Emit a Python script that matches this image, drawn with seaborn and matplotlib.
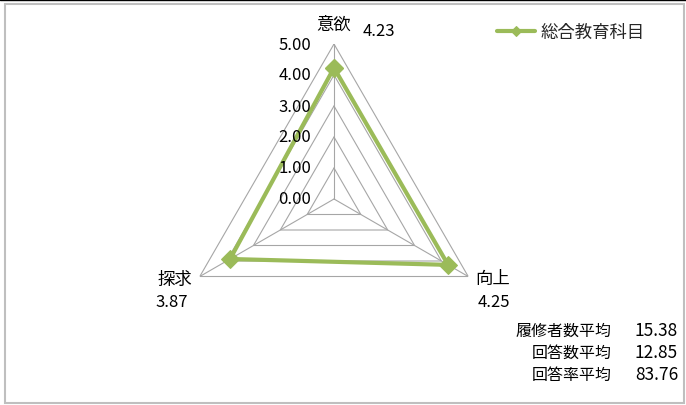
import numpy as np
import pandas as pd
import matplotlib
matplotlib.use("Agg")
import matplotlib.pyplot as plt
from matplotlib.patches import Rectangle
from matplotlib.lines import Line2D
import seaborn as sns

# data
categories = ["意欲", "向上", "探求"]
scores = [4.23, 4.25, 3.87]
series_name = "総合教育科目"
ring_levels = [0, 1, 2, 3, 4, 5]
stat_labels = ["履修者数平均", "回答数平均", "回答率平均"]
stat_values = ["15.38", "12.85", "83.76"]

GREEN = "#9BBB59"
GRID = "#A6A6A6"

sns.set_theme(style="white")
plt.rcParams["font.family"] = ["Noto Sans CJK JP", "DejaVu Sans"]

W, H = 686, 406
fig = plt.figure(figsize=(W / 100, H / 100), dpi=100)

# radar centre ~ (334, 200) px, outer radius ~155 px
cx, cy, rad = 334, 200, 155
ax = fig.add_axes([(cx - rad) / W, (H - cy - rad) / H, 2 * rad / W, 2 * rad / H],
                  projection="polar")
ax.set_theta_offset(np.pi / 2)
ax.set_theta_direction(-1)
ax.set_ylim(0, 5)
ax.grid(False)
ax.spines["polar"].set_visible(False)
ax.set_xticks([])
ax.set_yticks([])
ax.patch.set_alpha(0)

theta = np.linspace(0, 2 * np.pi, len(categories), endpoint=False)
theta_closed = np.append(theta, theta[0])

# polygon grid rings + spokes
for r in ring_levels[1:]:
    ax.plot(theta_closed, [r] * len(theta_closed), color=GRID, lw=0.8, zorder=1)
for t in theta:
    ax.plot([t, t], [0, ring_levels[-1]], color=GRID, lw=0.8, zorder=1)

# data series
df = pd.DataFrame({"theta": theta_closed, "score": scores + [scores[0]]})
sns.lineplot(data=df, x="theta", y="score", sort=False, estimator=None, ax=ax,
             color=GREEN, lw=3, marker="D", markersize=9, markeredgecolor=GREEN,
             label=series_name, zorder=3)
ax.set_xlabel("")
ax.set_ylabel("")
handles, labels = ax.get_legend_handles_labels()
ax.get_legend().remove()

# radial tick labels along the top axis
for r in ring_levels:
    ax.annotate(f"{r:.2f}", xy=(0, r), xytext=(-23, 0), textcoords="offset pixels",
                ha="right", va="center", fontsize=12, color="black",
                annotation_clip=False)

# category labels and values
label_off = [(0, 20), (24, -2), (-25, -2)]
value_off = [(45, 14), (26, -25), (-28, -25)]
for t, name, val, lo, vo in zip(theta, categories, scores, label_off, value_off):
    ax.annotate(name, xy=(t, 5), xytext=lo, textcoords="offset pixels",
                ha="center", va="center", fontsize=12.5, color="black",
                annotation_clip=False)
    ax.annotate(f"{val:.2f}", xy=(t, 5), xytext=vo, textcoords="offset pixels",
                ha="center", va="center", fontsize=12, color="black",
                annotation_clip=False)

# legend top right
fig.legend(handles, labels, loc="center left", bbox_to_anchor=(497 / W, 1 - 33 / H),
           frameon=False, fontsize=12.5, handlelength=2.2, handletextpad=0.3,
           borderpad=0, borderaxespad=0, markerscale=0.6)

# statistics block bottom right
for i, (lab, val) in enumerate(zip(stat_labels, stat_values)):
    y = 1 - (331 + 22 * i) / H
    fig.text(612 / W, y, lab, ha="right", va="center", fontsize=11.5, color="black")
    fig.text(678 / W, y, val, ha="right", va="center", fontsize=12.5, color="black")

# outer frame
fig.patches.append(Rectangle((5 / W, 2 / H), 679 / W, 399 / H, transform=fig.transFigure,
                             fill=False, edgecolor="#BFBFBF", lw=1.5))
fig.add_artist(Line2D([0, 1], [1 - 0.5 / H, 1 - 0.5 / H], transform=fig.transFigure,
                      color="black", lw=1))

fig.savefig("out.png", dpi=100)
